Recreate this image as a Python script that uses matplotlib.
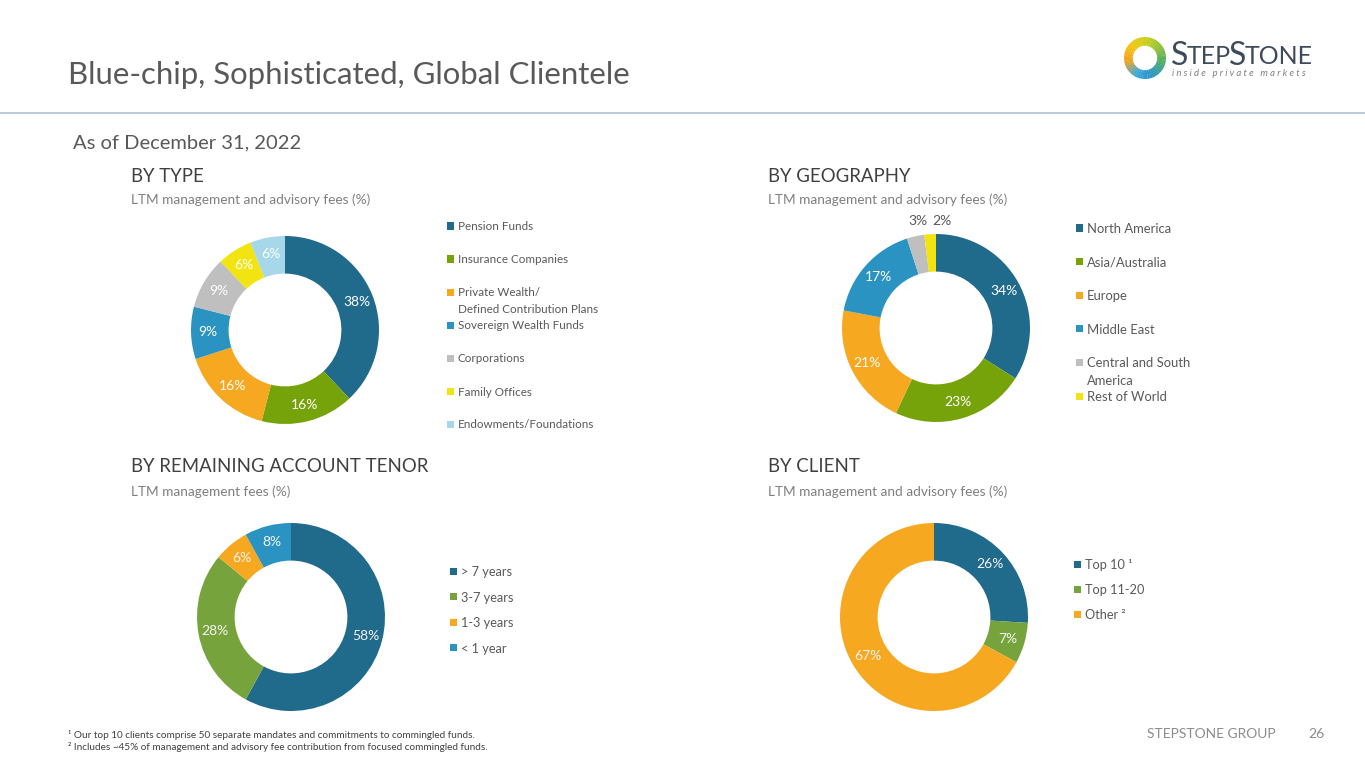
import numpy as np
import matplotlib
matplotlib.use('Agg')
import matplotlib.pyplot as plt
from matplotlib.patches import Rectangle, Wedge
from matplotlib.colors import LinearSegmentedColormap

plt.rcParams['font.family'] = ['Lato', 'DejaVu Sans']

W, H = 1365, 768

# Daten
type_labels = ['Pension Funds', 'Insurance Companies',
               'Private Wealth/\nDefined Contribution Plans',
               'Sovereign Wealth Funds', 'Corporations', 'Family Offices',
               'Endowments/Foundations']
type_values = [38, 16, 16, 9, 9, 6, 6]

geo_labels = ['North America', 'Asia/Australia', 'Europe', 'Middle East',
              'Central and South\nAmerica', 'Rest of World']
geo_values = [34, 23, 21, 17, 3, 2]

tenor_labels = ['> 7 years', '3-7 years', '1-3 years', '< 1 year']
tenor_values = [58, 28, 6, 8]

client_labels = ['Top 10 \u00b9', 'Top 11-20', 'Other \u00b2']
client_values = [26, 7, 67]

# Farben
DARK = '#206a8b'
GREEN = '#77a30a'
GREEN2 = '#76a33c'
ORANGE = '#f6a821'
BLUE = '#2a93c1'
GREY = '#bfbfbf'
YELLOW = '#f1e411'
LIGHT = '#a6d8ea'

type_colors = [DARK, GREEN, ORANGE, BLUE, GREY, YELLOW, LIGHT]
geo_colors = [DARK, GREEN, ORANGE, BLUE, GREY, YELLOW]
tenor_colors = [DARK, GREEN2, ORANGE, BLUE]
client_colors = [DARK, GREEN2, ORANGE]

fig = plt.figure(figsize=(W / 100, H / 100), dpi=100)
fig.patch.set_facecolor('white')


def ftext(x, y, s, **kw):
    return fig.text(x / W, 1 - y / H, s, **kw)


def donut(cx, cy, r, values, colors, fs, tcolor='white'):
    ax = fig.add_axes([(cx - r) / W, 1 - (cy + r) / H, 2 * r / W, 2 * r / H])
    wedges, texts, autos = ax.pie(
        values, colors=colors, startangle=90, counterclock=False, radius=1,
        wedgeprops=dict(width=0.4, linewidth=0),
        autopct=lambda p: f'{p:.0f}%', pctdistance=0.82,
        textprops=dict(color=tcolor, fontsize=fs))
    ax.set_xlim(-1, 1)
    ax.set_ylim(-1, 1)
    ax.set_aspect('equal')
    ax.axis('off')
    return ax, autos


def legend(x, y0, step, labels, colors, fs, gap):
    for i, (lab, c) in enumerate(zip(labels, colors)):
        y = y0 + i * step
        fig.patches.append(Rectangle((x / W, 1 - (y + 3.5) / H), 7 / W, 7 / H,
                                     transform=fig.transFigure, color=c, lw=0))
        for k, line in enumerate(lab.split('\n')):
            ftext(x + 11, y + k * gap, line, fontsize=fs, color='#595959',
                  va='center_baseline', ha='left')


# Kopfzeile
ftext(68, 75, 'Blue-chip, Sophisticated, Global Clientele', fontsize=22.4,
      color='#595959', va='center')
fig.add_artist(plt.Line2D([0, 1], [1 - 113 / H] * 2, color='#b3c4d8', lw=1.3))
ftext(73, 143, 'As of December 31, 2022', fontsize=14.5, color='#595959',
      va='center')

# Logo
lax = fig.add_axes([(1145 - 21) / W, 1 - (58 + 21) / H, 42 / W, 42 / H])
cmap = LinearSegmentedColormap.from_list(
    'logo', ['#c9d21c', '#8dc03a', '#4aab6a', '#2b93c8', '#3aa8d8',
             '#f0a21e', '#f6c30f', '#c9d21c'])
n = 48
for k in range(n):
    a0 = 90 - 360 * (k + 1) / n
    lax.add_patch(Wedge((0, 0), 1, a0, a0 + 360 / n + 0.5, width=0.42,
                        color=cmap(k / n), lw=0))
lax.set_xlim(-1, 1)
lax.set_ylim(-1, 1)
lax.set_aspect('equal')
lax.axis('off')
ftext(1171, 56, 'S', fontsize=23, color='#3d4b5a', va='center')
ftext(1187, 57, 'TEP', fontsize=18, color='#3d4b5a', va='center')
ftext(1229, 56, 'S', fontsize=23, color='#3d4b5a', va='center')
ftext(1245, 57, 'TONE', fontsize=18, color='#3d4b5a', va='center')
ftext(1172, 74, 'i n s i d e   p r i v a t e   m a r k e t s', fontsize=6.8,
      color='#7f7f7f', style='italic', va='center')

# Überschriften
HEAD = dict(fontsize=13.4, color='#404040', va='center')
SUB = dict(fontsize=9.8, color='#7f7f7f', va='center')
ftext(131, 176, 'BY TYPE', **HEAD)
ftext(131, 200, 'LTM management and advisory fees (%)', **SUB)
ftext(768, 176, 'BY GEOGRAPHY', **HEAD)
ftext(768, 200, 'LTM management and advisory fees (%)', **SUB)
ftext(131, 467, 'BY REMAINING ACCOUNT TENOR', **HEAD)
ftext(131, 492, 'LTM management fees (%)', **SUB)
ftext(768, 467, 'BY CLIENT', **HEAD)
ftext(768, 492, 'LTM management and advisory fees (%)', **SUB)

# Ringdiagramme
donut(285, 330, 94, type_values, type_colors, 10)
legend(447, 226, 33, type_labels, type_colors, 8.4, 16)

ax2, autos2 = donut(936, 328, 94, geo_values, geo_colors, 10)
for t, dx in zip(autos2[4:], [0.06, 0.135]):
    x, y = t.get_position()
    t.set_position((x / 0.82 * 1.14 + dx, 1.14))
    t.set_color('#595959')
legend(1076, 228, 33.6, geo_labels, geo_colors, 9.4, 18)

donut(291, 617, 94, tenor_values, tenor_colors, 10, '#f4f4f4')
legend(450, 571, 25.6, tenor_labels, tenor_colors, 9.2, 18)

donut(934, 617, 94, client_values, client_colors, 10, '#f4f4f4')
legend(1074, 564, 25, client_labels, client_colors, 9.2, 18)

# Fußnoten
ftext(68, 735, '\u00b9 Our top 10 clients comprise 50 separate mandates and '
      'commitments to commingled funds.', fontsize=7.2, color='#404040',
      va='center')
ftext(68, 747, '\u00b2 Includes ~45% of management and advisory fee '
      'contribution from focused commingled funds.', fontsize=7.2,
      color='#404040', va='center')
ftext(1276, 734, 'STEPSTONE GROUP', fontsize=10, color='#8c8c8c',
      va='center', ha='right')
ftext(1325, 734, '26', fontsize=10, color='#8c8c8c', va='center', ha='right')

fig.savefig('out.png', dpi=100)
